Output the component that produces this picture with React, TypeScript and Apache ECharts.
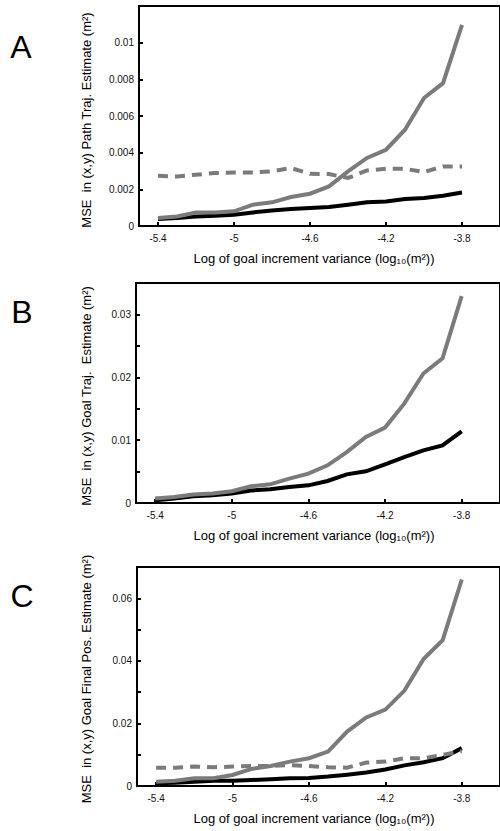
import React, { useEffect, useRef } from "react";
import * as echarts from "echarts";

// x positions: log10 of goal increment variance
const xValues = [-5.4, -5.3, -5.2, -5.1, -5.0, -4.9, -4.8, -4.7, -4.6, -4.5, -4.4, -4.3, -4.2, -4.1, -4.0, -3.9, -3.8];
const xTickValues = [-5.4, -5.0, -4.6, -4.2, -3.8];

// Panel A: Path trajectory estimate
const aGray = [0.00044, 0.00052, 0.00074, 0.00074, 0.0008, 0.00116, 0.00129, 0.00158, 0.00176, 0.00216, 0.00298, 0.00371, 0.00416, 0.00525, 0.00698, 0.00779, 0.01097];
const aBlack = [0.00038, 0.00044, 0.00052, 0.00056, 0.00062, 0.00074, 0.00085, 0.00093, 0.00098, 0.00104, 0.00116, 0.00129, 0.00134, 0.00147, 0.00153, 0.00165, 0.00183];
const aDashed = [0.00274, 0.0027, 0.0028, 0.00289, 0.00292, 0.00292, 0.00298, 0.00316, 0.00285, 0.00283, 0.00262, 0.00303, 0.00312, 0.00312, 0.00294, 0.00325, 0.00325];

// Panel B: Goal trajectory estimate
const bGray = [0.0007, 0.00095, 0.00134, 0.0015, 0.00186, 0.00266, 0.00297, 0.00388, 0.00467, 0.006, 0.0081, 0.0105, 0.012, 0.0158, 0.0206, 0.023, 0.0329];
const bBlack = [0.00043, 0.0007, 0.00107, 0.00122, 0.0015, 0.002, 0.00218, 0.00254, 0.00281, 0.0035, 0.00456, 0.00504, 0.00615, 0.00731, 0.00838, 0.00917, 0.0114];

// Panel C: Goal final position estimate
const cGray = [0.00138, 0.0017, 0.00247, 0.00247, 0.00353, 0.00545, 0.0064, 0.0078, 0.00888, 0.011, 0.0174, 0.0219, 0.0244, 0.0305, 0.0406, 0.0466, 0.066];
const cBlack = [0.00087, 0.00107, 0.00138, 0.0017, 0.0017, 0.00192, 0.00214, 0.00247, 0.00256, 0.003, 0.0036, 0.0043, 0.0053, 0.0066, 0.0076, 0.0089, 0.0121];
const cDashed = [0.00587, 0.00587, 0.0062, 0.006, 0.0062, 0.0064, 0.0064, 0.0067, 0.0064, 0.006, 0.00587, 0.0075, 0.0078, 0.0089, 0.0089, 0.0099, 0.0112];

const panelLetters = ["A", "B", "C"];
const yTitles = [
  "MSE  in (x,y) Path Traj. Estimate (m²)",
  "MSE  in (x,y) Goal Traj.  Estimate (m²)",
  "MSE  in (x,y) Goal Final Pos. Estimate (m²)",
];
const xTitle = "Log of goal increment variance (log₁₀(m²))";

const FONT = "'Liberation Sans', Arial, Helvetica, sans-serif";
const GRAY = "#7b7b7b";

const zip = (ys: number[]) => xValues.map((x, i) => [x, ys[i]]);

export default function App() {
  const ref = useRef<HTMLDivElement>(null);
  useEffect(() => {
    document.body.style.margin = "0";
    if (!ref.current) return;
    const chart = echarts.init(ref.current, null, { renderer: "svg" });

    const grids = [
      { left: 139, top: 6, width: 366, height: 220 },
      { left: 136, top: 283, width: 366, height: 220 },
      { left: 137, top: 567, width: 366, height: 219 },
    ];

    const yConf = [
      { max: 0.012, interval: 0.002, labelStep: 0.002 },
      { max: 0.035, interval: 0.005, labelStep: 0.01 },
      { max: 0.07, interval: 0.01, labelStep: 0.02 },
    ];

    const fmt = (v: number) => (v === 0 ? "0" : String(+v.toFixed(4)));

    const xAxis = grids.map((_, i) => ({
      type: "value",
      gridIndex: i,
      min: -5.5,
      max: -3.6,
      splitLine: { show: false },
      axisLine: { show: true, lineStyle: { color: "#000", width: 2 } },
      axisTick: {
        show: true,
        inside: true,
        length: 4,
        customValues: xTickValues,
        lineStyle: { color: "#000", width: 2 },
      },
      axisLabel: {
        customValues: xTickValues,
        margin: 7,
        fontSize: 10,
        fontFamily: FONT,
        color: "#111",
        formatter: (v: number) => String(+v.toFixed(1)),
      },
    }));

    const yAxis = grids.map((_, i) => {
      const c = yConf[i];
      return {
        type: "value",
        gridIndex: i,
        min: 0,
        max: c.max,
        interval: c.interval,
        splitLine: { show: false },
        axisLine: { show: true, lineStyle: { color: "#000", width: 2 } },
        axisTick: { show: true, inside: true, length: 4, lineStyle: { color: "#000", width: 2 } },
        axisLabel: {
          margin: 5,
          fontSize: 10,
          fontFamily: FONT,
          color: "#111",
          showMaxLabel: false,
          formatter: (v: number) => {
            const r = Math.round(v / c.labelStep);
            if (Math.abs(v - r * c.labelStep) > 1e-9) return "";
            if (v >= c.max - 1e-9) return "";
            return fmt(v);
          },
        },
      };
    });

    const lineBase = (gi: number, data: number[], color: string, dashed = false) => ({
      type: "line",
      xAxisIndex: gi,
      yAxisIndex: gi,
      data: zip(data),
      showSymbol: false,
      symbol: "none",
      silent: true,
      lineStyle: {
        color,
        width: 4,
        type: dashed ? [10, 7] : "solid",
        cap: "butt",
        join: "miter",
      },
      z: dashed ? 3 : 2,
    });

    const series = [
      lineBase(0, aBlack, "#000"),
      lineBase(0, aGray, GRAY),
      lineBase(0, aDashed, GRAY, true),
      lineBase(1, bBlack, "#000"),
      lineBase(1, bGray, GRAY),
      lineBase(2, cBlack, "#000"),
      lineBase(2, cGray, GRAY),
      lineBase(2, cDashed, GRAY, true),
    ];

    const letterPos = [
      [21, 47],
      [22, 312],
      [22, 596],
    ];
    const yTitleCenters = [
      [86, 120],
      [86, 396],
      [86, 679],
    ];
    const xTitleY = [258, 535, 818];

    const graphic: any[] = [];
    for (let i = 0; i < 3; i++) {
      graphic.push({
        type: "text",
        x: letterPos[i][0],
        y: letterPos[i][1],
        style: {
          text: panelLetters[i],
          fontSize: 32,
          fontFamily: FONT,
          fill: "#000",
          textAlign: "center",
          textVerticalAlign: "middle",
        },
      });
      graphic.push({
        type: "text",
        x: yTitleCenters[i][0],
        y: yTitleCenters[i][1],
        rotation: Math.PI / 2,
        style: {
          text: yTitles[i],
          fontSize: 13,
          fontFamily: FONT,
          fill: "#000",
          textAlign: "center",
          textVerticalAlign: "middle",
        },
      });
      graphic.push({
        type: "text",
        x: 314,
        y: xTitleY[i],
        style: {
          text: xTitle,
          fontSize: 13,
          fontFamily: FONT,
          fill: "#000",
          textAlign: "center",
          textVerticalAlign: "middle",
        },
      });
    }

    chart.setOption({
      animation: false,
      backgroundColor: "#fff",
      grid: grids.map((g) => ({
        ...g,
        show: true,
        borderColor: "#000",
        borderWidth: 2,
        backgroundColor: "transparent",
        containLabel: false,
      })),
      xAxis,
      yAxis,
      series,
      graphic,
    });

    return () => chart.dispose();
  }, []);

  return (
    <div
      ref={ref}
      style={{ position: "absolute", left: 0, top: 0, width: 500, height: 831 }}
    />
  );
}
